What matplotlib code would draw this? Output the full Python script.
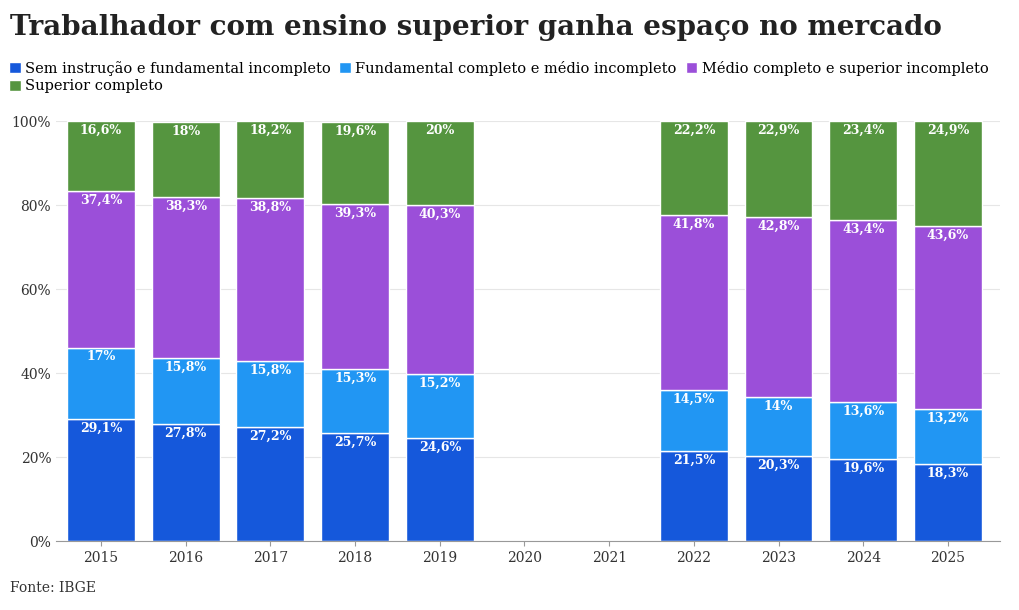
import matplotlib.pyplot as plt
import numpy as np

years = ['2015', '2016', '2017', '2018', '2019', '2020', '2021', '2022', '2023', '2024', '2025']
sem = [29.1, 27.8, 27.2, 25.7, 24.6, None, None, 21.5, 20.3, 19.6, 18.3]
fund = [17, 15.8, 15.8, 15.3, 15.2, None, None, 14.5, 14, 13.6, 13.2]
medio = [37.4, 38.3, 38.8, 39.3, 40.3, None, None, 41.8, 42.8, 43.4, 43.6]
sup = [16.6, 18, 18.2, 19.6, 20, None, None, 22.2, 22.9, 23.4, 24.9]

series = [
    ('Sem instrução e fundamental incompleto', sem, '#1558db'),
    ('Fundamental completo e médio incompleto', fund, '#2196f3'),
    ('Médio completo e superior incompleto', medio, '#9b4fd9'),
    ('Superior completo', sup, '#55953f'),
]

def fmt(v):
    return ('%g' % v).replace('.', ',') + '%'

fig = plt.figure(figsize=(10.2, 6.1), dpi=100)
ax = fig.add_axes([0.055, 0.113, 0.925, 0.688])
x = np.arange(len(years))
bottom = np.zeros(len(years))
handles = []
for name, vals, col in series:
    v = np.array([np.nan if a is None else a for a in vals])
    h = ax.bar(x, np.nan_to_num(v), bottom=bottom, color=col, width=0.8, label=name,
               edgecolor='white', linewidth=1)
    handles.append(h)
    for i, a in enumerate(vals):
        if a is not None:
            ax.text(x[i], bottom[i] + a - 2.2, fmt(a), ha='center', va='center',
                    color='white', fontsize=9, fontweight='bold', family='DejaVu Serif')
    bottom += np.nan_to_num(v)

ax.set_xlim(-0.53, len(years) - 0.39)
ax.set_ylim(0, 100)
ax.set_xticks(x)
ax.set_xticklabels(years, family='DejaVu Serif', fontsize=10, color='#333333')
ax.set_yticks(range(0, 101, 20))
ax.set_yticklabels(['%d%%' % t for t in range(0, 101, 20)], family='DejaVu Serif',
                   fontsize=10, color='#333333')
ax.grid(axis='y', color='#e6e6e6', linewidth=0.8)
ax.set_axisbelow(True)
for s in ['top', 'right', 'left']:
    ax.spines[s].set_visible(False)
ax.spines['bottom'].set_color('#999999')
ax.tick_params(axis='y', length=0)
ax.tick_params(axis='x', color='#999999')

fig.text(0.01, 0.955, 'Trabalhador com ensino superior ganha espaço no mercado',
         fontsize=20, fontweight='bold', family='DejaVu Serif', color='#222222', va='center')
order = [0, 3, 1, 2]
fig.legend([handles[i] for i in order], [series[i][0] for i in order],
           loc='upper left', bbox_to_anchor=(0.003, 0.91), ncol=3, frameon=False,
           prop={'family': 'DejaVu Serif', 'size': 10.5}, handlelength=0.8, handleheight=0.8,
           columnspacing=0.6, handletextpad=0.3, labelspacing=0.25, borderaxespad=0)
fig.text(0.01, 0.03, 'Fonte: IBGE', fontsize=10, family='DejaVu Serif', color='#333333')
fig.savefig('out.png')
